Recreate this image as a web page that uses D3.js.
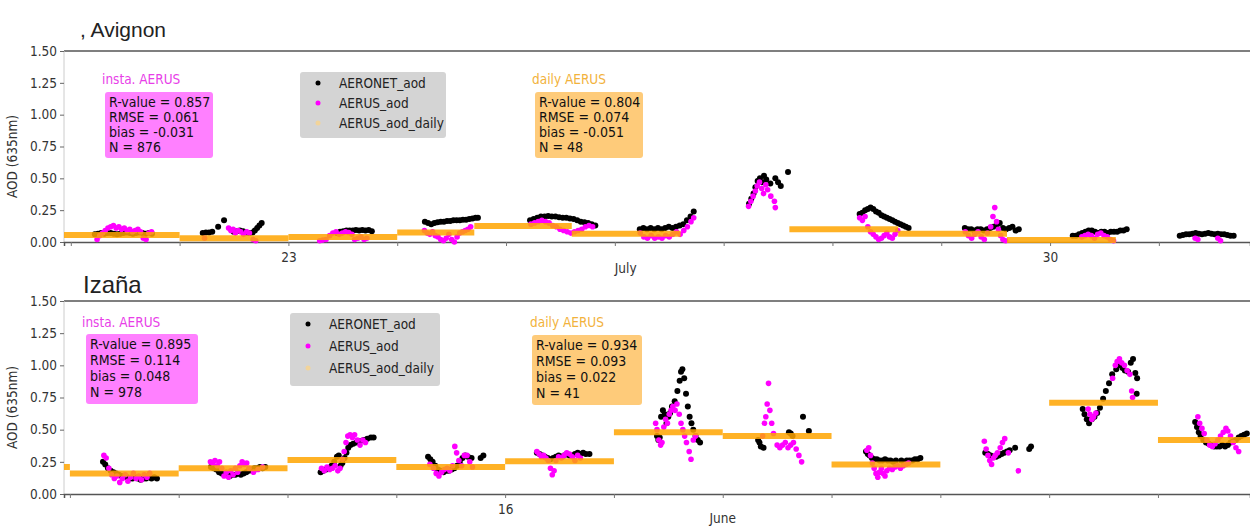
<!DOCTYPE html>
<html>
<head>
<meta charset="utf-8">
<script src="https://cdn.jsdelivr.net/npm/d3@7"></script>
<style>
  body { margin: 0; background: #fff; }
  text { font-family: "DejaVu Sans Condensed", "DejaVu Sans", sans-serif; }
</style>
</head>
<body>
<svg width="1250" height="526"></svg>
<script>
var YEAR = 2018;
var yTicks = [0, 0.25, 0.5, 0.75, 1.0, 1.25, 1.5];
var legendLabels = ["AERONET_aod", "AERUS_aod", "AERUS_aod_daily"];
var statNames = ["R-value", "RMSE", "bias", "N"];

// ---- Avignon (July) : [day, hour UTC, aod]
var avgAeronet = [
  [21,5.3,.06],[21,6.0,.065],[21,6.7,.07],[21,7.4,.065],[21,8.1,.07],[21,8.8,.07],[21,9.5,.065],[21,10.2,.06],[21,10.9,.065],[21,11.6,.07],[21,12.3,.075],[21,13.0,.07],[21,13.7,.065],[21,14.4,.07],[21,15.1,.075],[21,15.8,.07],[21,16.5,.065],[21,17.2,.07],[21,17.9,.065],
  [22,5.1,.07],[22,5.8,.075],[22,6.5,.075],[22,7.2,.08],[22,8.5,.12],[22,9.8,.17],[22,11.9,.08],[22,12.6,.085],[22,13.3,.09],[22,14.0,.085],[22,14.7,.075],[22,15.4,.07],[22,16.1,.075],[22,16.6,.09],[22,17.1,.11],[22,17.6,.13],[22,18.1,.15],
  [23,10.7,.07],[23,11.4,.08],[23,12.1,.085],[23,12.8,.09],[23,13.5,.09],[23,14.2,.09],[23,14.9,.095],[23,15.6,.09],[23,16.3,.095],[23,17.0,.09],[23,17.7,.095],[23,18.4,.085],
  [24,6.1,.16],[24,6.8,.15],[24,7.5,.14],[24,8.2,.15],[24,8.9,.155],[24,9.6,.16],[24,10.3,.16],[24,11.0,.165],[24,11.7,.165],[24,12.4,.17],[24,13.1,.17],[24,13.8,.17],[24,14.5,.175],[24,15.2,.175],[24,15.9,.18],[24,16.6,.185],[24,17.3,.19],[24,17.8,.19],
  [25,5.3,.17],[25,6.1,.18],[25,6.9,.19],[25,7.7,.2],[25,8.5,.2],[25,9.3,.205],[25,10.1,.2],[25,10.9,.2],[25,11.7,.195],[25,12.5,.19],[25,13.3,.19],[25,14.1,.185],[25,14.9,.18],[25,15.7,.17],[25,16.5,.16],[25,17.3,.155],[25,18.1,.15],[25,18.9,.14],[25,19.7,.13],
  [26,5.5,.1],[26,6.3,.11],[26,7.1,.1],[26,7.9,.11],[26,8.7,.1],[26,9.5,.11],[26,10.3,.1],[26,11.1,.11],[26,11.9,.12],[26,12.7,.11],[26,13.5,.12],[26,14.3,.13],[26,15.1,.14],[26,15.9,.17],[26,16.7,.2],[26,17.4,.24],
  [27,5.6,.3],[27,6.1,.34],[27,6.6,.38],[27,7.0,.43],[27,7.5,.48],[27,8.0,.5],[27,8.4,.47],[27,8.9,.52],[27,9.4,.49],[27,10.3,.46],[27,11.4,.5],[27,12.0,.47],[27,12.6,.44],[27,14.2,.55],
  [28,6.0,.22],[28,6.6,.23],[28,7.2,.25],[28,7.8,.26],[28,8.4,.27],[28,9.0,.26],[28,9.6,.24],[28,10.2,.23],[28,10.8,.21],[28,11.4,.2],[28,12.0,.19],[28,12.6,.18],[28,13.2,.17],[28,13.8,.16],[28,14.4,.15],[28,15.0,.14],[28,15.6,.13],[28,16.2,.12],[28,16.8,.11],
  [29,5.2,.11],[29,5.9,.1],[29,6.6,.1],[29,7.3,.09],[29,8.0,.1],[29,8.7,.1],[29,9.4,.09],[29,10.1,.1],[29,10.8,.11],[29,11.5,.12],[29,12.2,.13],[29,12.9,.15],[29,13.6,.11],[29,14.3,.1],[29,15.0,.11],[29,15.7,.12],[29,16.4,.09],[29,17.1,.1],
  [30,5.0,.05],[30,5.7,.05],[30,6.4,.06],[30,7.1,.07],[30,7.8,.08],[30,8.5,.09],[30,9.2,.09],[30,9.9,.08],[30,10.6,.07],[30,11.3,.08],[30,12.0,.08],[30,12.7,.07],[30,13.4,.08],[30,14.1,.08],[30,14.8,.08],[30,15.5,.09],[30,16.2,.09],[30,16.9,.1],
  [31,4.6,.05],[31,5.3,.055],[31,6.0,.06],[31,6.7,.06],[31,7.4,.065],[31,8.1,.07],[31,8.8,.065],[31,9.5,.06],[31,10.2,.065],[31,10.9,.07],[31,11.6,.065],[31,12.3,.06],[31,13.0,.065],[31,13.7,.06],[31,14.4,.06],[31,15.1,.055],[31,15.8,.05],[31,16.5,.05]
];
var avgAerus = [
  [21,5.8,.02],[21,6.4,.05],[21,7.0,.07],[21,7.6,.09],[21,8.2,.11],[21,8.8,.12],[21,9.4,.13],[21,10.0,.11],[21,10.6,.12],[21,11.2,.1],[21,11.8,.11],[21,12.4,.09],[21,13.0,.1],[21,13.6,.08],[21,14.2,.09],[21,14.8,.1],[21,15.4,.08],[21,16.0,.03],[21,16.6,.02],[21,17.2,.07],[21,17.8,.08],
  [22,5.5,.03],[22,10.8,.11],[22,11.3,.09],[22,11.8,.1],[22,12.3,.07],[22,12.9,.09],[22,13.5,.08],[22,14.1,.06],[22,14.8,.08],[22,15.4,.07],[22,16.2,.02],[22,16.8,.01],
  [23,6.9,.01],[23,7.6,.015],[23,8.3,.02],[23,9.1,.05],[23,9.8,.07],[23,10.5,.08],[23,11.2,.06],[23,11.9,.07],[23,12.6,.08],[23,13.3,.075],[23,14.0,.06],[23,14.6,.02],[23,15.3,.03],[23,16.0,.04],[23,16.7,.02],[23,17.3,.03],
  [24,6.0,.09],[24,6.6,.07],[24,7.2,.06],[24,7.8,.08],[24,8.4,.05],[24,9.0,.04],[24,9.6,.02],[24,10.2,.01],[24,10.8,.03],[24,11.4,.06],[24,12.0,.02],[24,12.6,.0],[24,13.2,.04],[24,13.8,.07],[24,14.4,.08],[24,15.0,.09],[24,15.6,.1],[24,16.2,.12],
  [25,5.5,.14],[25,6.3,.15],[25,7.1,.16],[25,7.9,.17],[25,8.7,.16],[25,9.5,.15],[25,10.3,.13],[25,11.1,.12],[25,11.9,.1],[25,12.7,.09],[25,13.5,.08],[25,14.3,.07],[25,15.1,.08],[25,15.9,.09],[25,16.7,.1],[25,17.5,.12],[25,18.3,.13],[25,19.1,.12],
  [26,5.6,.07],[26,6.4,.04],[26,7.2,.03],[26,8.0,.05],[26,8.8,.03],[26,9.6,.04],[26,10.4,.03],[26,11.2,.05],[26,12.0,.04],[26,12.8,.06],[26,13.6,.08],[26,14.4,.06],[26,15.2,.09],[26,16.0,.12],[26,16.8,.16],[26,17.4,.19],
  [27,5.5,.28],[27,6.0,.32],[27,6.5,.36],[27,7.0,.4],[27,7.4,.44],[27,7.9,.47],[27,8.4,.42],[27,8.8,.38],[27,9.3,.45],[27,9.7,.41],[27,10.4,.36],[27,11.2,.32],[27,11.4,.27],
  [28,6.0,.19],[28,6.6,.17],[28,7.2,.2],[28,7.8,.12],[28,8.4,.08],[28,9.0,.06],[28,9.6,.04],[28,10.2,.02],[28,10.8,.03],[28,11.4,.05],[28,12.0,.07],[28,12.6,.04],[28,13.2,.03],[28,13.8,.06],[28,14.4,.09],
  [29,5.3,.08],[29,6.0,.05],[29,6.7,.03],[29,7.4,.06],[29,8.1,.08],[29,8.8,.04],[29,9.5,.02],[29,10.2,.07],[29,10.9,.12],[29,11.4,.2],[29,11.8,.27],[29,12.2,.16],[29,12.6,.1],[29,13.1,.05],[29,13.6,.02],[29,14.2,.01],
  [30,7.0,.04],[30,7.7,.05],[30,8.4,.06],[30,9.1,.05],[30,9.8,.03],[30,10.5,.06],[30,11.2,.07],[30,11.9,.05],[30,12.6,.04],[30,13.3,.02],[30,14.0,.01],
  [31,8.0,.03],[31,8.6,.02],[31,13.0,.03],[31,13.6,.01]
];
// daily bars: [start day, start hour, end day, end hour, aod]
var avgDailyBars = [
  [20,22.0,22,0.0,.055],[22,0.0,23,0.0,.03],[23,0.0,24,0.0,.04],[24,0.0,24,17.0,.075],
  [24,17.0,25,14.5,.125],[25,14.5,26,14.5,.065],[27,14.5,28,14.5,.1],[28,14.5,29,14.5,.065],[29,14.5,30,14.5,.015]
];
var avgInsta = ["0.857", "0.061", "-0.031", "876"];
var avgDaily = ["0.804", "0.074", "-0.051", "48"];
var avgTickLabels = [23, 30];
var avgMonth = ["July", 26, 0.1];
var avgDomain = [[20, 22.5], [31, 20.1]];

// ---- Izaña (June)
var izaAeronet = [
  [12,7.3,.25],[12,7.8,.23],[12,8.4,.2],[12,9.0,.18],[12,9.6,.17],[12,10.2,.16],[12,10.8,.15],[12,11.4,.14],[12,12.0,.14],[12,12.6,.13],[12,13.2,.12],[12,13.8,.12],[12,14.4,.13],[12,15.0,.12],[12,15.6,.11],[12,16.2,.12],[12,16.8,.12],[12,17.4,.13],[12,18.0,.12],[12,18.6,.13],[12,19.2,.12],
  [13,7.1,.21],[13,7.7,.2],[13,8.3,.19],[13,8.9,.17],[13,9.5,.16],[13,10.1,.15],[13,10.7,.15],[13,11.3,.14],[13,11.9,.15],[13,12.5,.15],[13,13.1,.16],[13,13.7,.15],[13,14.3,.16],[13,14.9,.17],[13,15.5,.18],[13,16.1,.19],[13,16.7,.2],[13,17.3,.2],[13,17.9,.21],[13,18.5,.2],[13,19.1,.21],
  [14,7.3,.17],[14,7.9,.18],[14,8.5,.19],[14,9.1,.2],[14,9.7,.22],[14,10.3,.25],[14,10.9,.29],[14,11.3,.3],[14,11.7,.22],[14,12.1,.24],[14,12.6,.28],[14,13.0,.32],[14,13.4,.36],[14,13.9,.38],[14,14.5,.39],[14,15.2,.4],[14,16.0,.41],[14,16.8,.42],[14,17.6,.43],[14,18.4,.44],[14,19.0,.44],
  [15,7.0,.29],[15,7.5,.27],[15,8.0,.25],[15,8.6,.22],[15,9.2,.19],[15,9.8,.18],[15,10.4,.17],[15,11.0,.18],[15,11.6,.18],[15,12.2,.19],[15,12.8,.2],[15,13.4,.22],[15,14.0,.25],[15,14.6,.28],[15,15.2,.3],[15,15.8,.29],[15,16.6,.28],[15,18.6,.28],[15,19.2,.3],
  [16,7.0,.32],[16,7.6,.31],[16,8.2,.3],[16,8.8,.29],[16,9.4,.28],[16,10.0,.27],[16,10.6,.28],[16,11.2,.29],[16,11.8,.3],[16,12.4,.29],[16,13.0,.3],[16,13.6,.31],[16,14.2,.3],[16,14.8,.3],[16,15.4,.31],[16,16.0,.32],[16,16.6,.31],[16,17.2,.32],[16,17.8,.31],[16,18.6,.31],
  [17,9.5,.45],[17,9.8,.42],[17,10.1,.44],[17,10.4,.6],[17,10.8,.65],[17,11.2,.62],[17,11.6,.55],[17,12.0,.6],[17,12.4,.63],[17,12.8,.68],[17,13.4,.72],[17,14.0,.8],[17,14.5,.88],[17,14.8,.95],[17,15.1,.97],[17,15.5,.9],[17,15.9,.78],[17,16.3,.68],[17,16.7,.6],[17,17.1,.55],[17,17.5,.5],[17,18.0,.45],[17,18.5,.42],[17,19.0,.4],
  [18,7.8,.42],[18,8.1,.4],[18,8.4,.37],[18,9.0,.36],[18,14.6,.48],[18,15.0,.47],[18,15.4,.45],[18,17.7,.6],[18,19.0,.49],
  [19,7.6,.33],[19,8.0,.31],[19,8.4,.3],[19,8.9,.28],[19,9.4,.27],[19,10.0,.27],[19,10.6,.26],[19,11.2,.26],[19,11.8,.27],[19,12.4,.26],[19,13.0,.26],[19,13.6,.25],[19,14.2,.26],[19,15.4,.26],[19,16.0,.25],[19,16.6,.26],[19,17.2,.26],[19,17.8,.26],[19,18.4,.27],[19,19.0,.27],[19,19.6,.28],
  [20,9.9,.32],[20,10.5,.31],[20,11.1,.3],[20,11.7,.29],[20,12.3,.29],[20,12.9,.3],[20,13.5,.31],[20,14.1,.32],[20,14.7,.33],[20,15.3,.34],[20,16.5,.36],[20,19.6,.35],[20,20.0,.37],
  [21,7.4,.66],[21,7.8,.62],[21,8.3,.58],[21,8.8,.55],[21,9.4,.58],[21,10.0,.6],[21,10.6,.63],[21,11.2,.67],[21,11.9,.74],[21,12.5,.8],[21,13.2,.86],[21,13.9,.93],[21,14.8,.97],[21,15.6,1.0],[21,16.2,.98],[21,16.7,.96],[21,17.4,.95],[21,18.0,1.02],[21,18.5,1.05],[21,19.0,.94],[21,19.4,.9],[21,19.3,.78],
  [22,8.2,.56],[22,8.6,.52],[22,9.0,.48],[22,9.4,.45],[22,10.0,.42],[22,10.6,.4],[22,11.2,.39],[22,11.8,.38],[22,12.4,.37],[22,13.0,.37],[22,13.6,.37],[22,14.2,.38],[22,14.8,.37],[22,15.4,.38],[22,16.0,.4],[22,16.6,.41],[22,17.2,.42],[22,17.8,.44],[22,18.4,.45],[22,19.0,.46],[22,19.6,.47]
];
var izaAerus = [
  [12,7.5,.3],[12,8.0,.28],[12,8.6,.2],[12,9.2,.15],[12,9.8,.12],[12,10.4,.14],[12,11.0,.09],[12,11.6,.12],[12,12.2,.15],[12,12.8,.1],[12,13.4,.13],[12,14.0,.16],[12,14.6,.12],[12,15.2,.14],[12,15.8,.11],[12,16.4,.15],[12,17.0,.13],[12,17.6,.16],
  [13,7.0,.25],[13,7.5,.24],[13,8.0,.26],[13,8.5,.22],[13,9.0,.25],[13,9.5,.2],[13,10.0,.14],[13,10.5,.17],[13,11.0,.13],[13,11.5,.18],[13,12.0,.15],[13,12.5,.2],[13,13.0,.17],[13,13.5,.22],[13,14.0,.25],[13,14.5,.23],[13,15.0,.24],[13,15.5,.2],[13,16.5,.17],[13,17.5,.19],[13,18.5,.21],
  [14,7.5,.2],[14,8.1,.18],[14,8.7,.21],[14,9.3,.19],[14,9.9,.2],[14,10.5,.22],[14,11.1,.18],[14,11.6,.2],[14,12.1,.27],[14,12.5,.33],[14,12.9,.4],[14,13.3,.45],[14,13.8,.46],[14,14.3,.44],[14,14.8,.46],[14,15.4,.42],[14,16.0,.38],[14,16.6,.42],[14,17.2,.4],
  [15,7.4,.23],[15,8.2,.2],[15,8.8,.16],[15,9.4,.14],[15,10.0,.17],[15,10.6,.19],[15,11.2,.2],[15,11.8,.18],[15,12.4,.22],[15,12.9,.37],[15,13.3,.32],[15,13.8,.26],[15,14.4,.22],[15,15.0,.3],[15,15.6,.3],[15,16.2,.25],[15,16.8,.21],
  [16,7.0,.33],[16,7.5,.31],[16,8.0,.29],[16,8.5,.3],[16,9.0,.28],[16,9.5,.26],[16,10.0,.2],[16,10.4,.15],[16,10.8,.18],[16,11.2,.26],[16,11.8,.29],[16,12.4,.28],[16,13.0,.3],[16,13.6,.32],[16,14.2,.31],[16,14.8,.29],[16,15.4,.26],[16,16.0,.3],[16,16.6,.28],
  [17,9.2,.55],[17,9.5,.5],[17,9.9,.42],[17,10.3,.38],[17,10.6,.4],[17,11.0,.52],[17,11.4,.58],[17,11.8,.55],[17,12.2,.62],[17,12.6,.65],[17,13.0,.68],[17,13.5,.65],[17,13.9,.7],[17,14.4,.62],[17,14.8,.55],[17,15.2,.5],[17,15.6,.45],[17,16.0,.4],[17,16.6,.33],[17,17.0,.27],[17,17.5,.42],[17,18.0,.45],
  [18,8.8,.45],[18,9.2,.55],[18,9.5,.6],[18,9.8,.7],[18,10.1,.86],[18,10.4,.65],[18,10.8,.55],[18,11.2,.47],[18,12.0,.38],[18,12.6,.36],[18,13.2,.38],[18,13.8,.4],[18,14.4,.36],[18,15.0,.38],[18,15.6,.4],[18,16.2,.35],[18,16.8,.3],[18,17.4,.25],
  [19,7.8,.34],[19,8.2,.36],[19,8.6,.3],[19,9.0,.24],[19,9.4,.2],[19,9.8,.16],[19,10.2,.13],[19,10.6,.17],[19,11.0,.2],[19,11.4,.16],[19,11.8,.14],[19,12.2,.18],[19,12.8,.2],[19,13.4,.19],[19,14.0,.21],[19,14.6,.22],[19,15.2,.2],[19,15.8,.22],[19,16.4,.23],[19,17.0,.24],
  [20,9.7,.41],[20,10.1,.35],[20,10.5,.3],[20,10.9,.26],[20,11.3,.23],[20,11.7,.28],[20,12.1,.3],[20,12.6,.32],[20,13.2,.36],[20,13.7,.4],[20,14.2,.43],[20,15.0,.32],[20,17.2,.18],
  [21,8.6,.66],[21,9.0,.62],[21,9.4,.58],[21,9.8,.6],[21,10.3,.63],[21,14.0,.9],[21,14.6,1.0],[21,15.0,1.03],[21,15.5,1.05],[21,16.0,1.02],[21,16.6,1.0],[21,17.2,.96],[21,17.8,.93],[21,18.2,.8],[21,18.4,.75],
  [22,8.8,.6],[22,9.2,.55],[22,9.7,.51],[22,10.2,.47],[22,10.8,.42],[22,11.4,.38],[22,12.0,.37],[22,12.6,.39],[22,13.2,.42],[22,13.8,.45],[22,14.4,.48],[22,15.0,.51],[22,15.4,.49],[22,16.0,.45],[22,16.6,.4],[22,17.2,.36],[22,17.8,.33]
];
var izaDailyBars = [
  [11,0,12,0,.21],[12,0,13,0,.16],[13,0,14,0,.2],[14,0,15,0,.265],[15,0,16,0,.21],[16,0,17,0,.255],
  [17,0,18,0,.48],[18,0,19,0,.45],[19,0,20,0,.23],[21,0,22,0,.71],[22,0,23,0,.42]
];
var izaInsta = ["0.895", "0.114", "0.048", "978"];
var izaDaily = ["0.934", "0.093", "0.022", "41"];
var izaTickLabels = [16];
var izaMonth = ["June", 18, 0];
var izaDomain = [[11, 22.7], [22, 20.3]];

var svg = d3.select("svg");

function drawPanel(p) {
  var t = function(day, hour) { return new Date(Date.UTC(YEAR, p.month, day) + hour * 3600000); };
  var x = d3.scaleUtc().domain([t(p.domain[0][0], p.domain[0][1]), t(p.domain[1][0], p.domain[1][1])]).range([64, 1250]);
  var y = d3.scaleLinear().domain([0, 1.5]).range([p.y0, p.y1]);
  var g = svg.append("g");

  // spines
  g.append("line").attr("x1", 64).attr("x2", 1250).attr("y1", p.y1).attr("y2", p.y1).attr("stroke", "#555").attr("stroke-width", 1.5);
  g.append("line").attr("x1", 64).attr("x2", 64).attr("y1", p.y1).attr("y2", p.y0).attr("stroke", "#ccc").attr("stroke-width", 1);

  var yAxis = g.append("g").attr("transform", "translate(64,0)")
    .call(d3.axisLeft(y).tickValues(yTicks).tickFormat(d3.format(".2f")).tickSize(4).tickPadding(3));
  yAxis.select(".domain").remove();
  yAxis.selectAll("line").attr("stroke", "#666");
  yAxis.selectAll("text").attr("font-size", 13.5).attr("fill", "#333").attr("font-family", null);

  var xAxis = g.append("g").attr("transform", "translate(0," + p.y0 + ")")
    .call(d3.axisBottom(x).ticks(d3.utcDay.every(1)).tickSize(4).tickPadding(6)
      .tickFormat(function(d) { return p.tickLabels.indexOf(d.getUTCDate()) >= 0 ? d.getUTCDate() : ""; }));
  xAxis.select(".domain").attr("stroke", "#555").attr("stroke-width", 1.5);
  xAxis.selectAll("line").attr("stroke", "#777");
  xAxis.selectAll("text").attr("font-size", 13.5).attr("fill", "#333").attr("font-family", null);

  g.append("text").attr("x", x(t(p.monthLabel[1], p.monthLabel[2] * 24))).attr("y", p.monthY)
    .attr("text-anchor", "middle").attr("font-size", 13.5).attr("fill", "#333").text(p.monthLabel[0]);

  // y label
  g.append("text").attr("transform", "translate(17," + ((p.y0 + p.y1) / 2 + 10) + ") rotate(-90)")
    .attr("text-anchor", "middle").attr("font-size", 13.5).attr("fill", "#333").text("AOD (635nm)");

  // title
  g.append("text").attr("x", p.titleX).attr("y", p.titleY).attr("font-size", p.titleSize).attr("fill", "#222")
    .style("font-family", "'Liberation Sans', Arial, sans-serif").text(p.title);

  var plot = g.append("g");
  plot.selectAll(".aeronet").data(p.aeronet).enter().append("circle")
    .attr("cx", function(d) { return x(t(d[0], d[1])); })
    .attr("cy", function(d) { return y(d[2]); })
    .attr("r", 3).attr("fill", "#000");
  plot.selectAll(".aerus").data(p.aerus).enter().append("circle")
    .attr("cx", function(d) { return x(t(d[0], d[1])); })
    .attr("cy", function(d) { return y(d[2]); })
    .attr("r", 2.8).attr("fill", "#f0f");
  plot.selectAll(".daily").data(p.daily).enter().append("line")
    .attr("x1", function(d) { return Math.max(64, x(t(d[0], d[1]))); })
    .attr("x2", function(d) { return Math.min(1250, x(t(d[2], d[3]))); })
    .attr("y1", function(d) { return y(d[4]); })
    .attr("y2", function(d) { return y(d[4]); })
    .attr("stroke", "#ffa500").attr("stroke-opacity", 0.85).attr("stroke-width", 6);

  // stat boxes
  function statBox(label, color, fill, vals, b) {
    g.append("text").attr("x", b.lx).attr("y", b.ly).attr("font-size", 13.5).attr("fill", color).text(label);
    g.append("rect").attr("x", b.x).attr("y", b.y).attr("width", b.w).attr("height", b.h)
      .attr("rx", 3).attr("fill", fill);
    vals.forEach(function(v, i) {
      g.append("text").attr("x", b.x + 4).attr("y", b.y + 15 + i * b.dy).attr("font-size", 14).attr("fill", "#111")
        .text(statNames[i] + " = " + v);
    });
  }
  statBox("insta. AERUS", "#e83ee8", "#ff80ff", p.insta, p.instaBox);
  statBox("daily AERUS", "#f2b23c", "#fecb7a", p.dailyStats, p.dailyBox);

  // legend
  var L = p.legend;
  g.append("rect").attr("x", L.x).attr("y", L.y).attr("width", L.w).attr("height", L.h).attr("rx", 3).attr("fill", "#d4d4d4");
  var dotColors = ["#000", "#f0f", "#f2d49a"];
  legendLabels.forEach(function(lab, i) {
    g.append("circle").attr("cx", L.x + 18).attr("cy", L.y + 11 + i * L.dy).attr("r", 2.5).attr("fill", dotColors[i]);
    g.append("text").attr("x", L.x + 39).attr("y", L.y + 16 + i * L.dy).attr("font-size", 13.5).attr("fill", "#222").text(lab);
  });
}

drawPanel({
  month: 6, domain: avgDomain, y0: 242, y1: 51, title: ", Avignon", titleX: 80, titleY: 37, titleSize: 21,
  tickLabels: avgTickLabels, monthLabel: avgMonth, monthY: 273,
  aeronet: avgAeronet, aerus: avgAerus, daily: avgDailyBars,
  insta: avgInsta, dailyStats: avgDaily,
  instaBox: { lx: 102, ly: 84, x: 105, y: 92, w: 108, h: 66, dy: 15 },
  dailyBox: { lx: 532, ly: 84, x: 535, y: 92, w: 108, h: 66, dy: 15 },
  legend: { x: 300, y: 72, w: 146, h: 66, dy: 20 }
});
drawPanel({
  month: 5, domain: izaDomain, y0: 494, y1: 301, title: "Izaña", titleX: 83, titleY: 293, titleSize: 24,
  tickLabels: izaTickLabels, monthLabel: izaMonth, monthY: 523,
  aeronet: izaAeronet, aerus: izaAerus, daily: izaDailyBars,
  insta: izaInsta, dailyStats: izaDaily,
  instaBox: { lx: 82, ly: 327, x: 86, y: 334, w: 112, h: 70, dy: 16 },
  dailyBox: { lx: 530, ly: 327, x: 532, y: 335, w: 110, h: 70, dy: 16 },
  legend: { x: 290, y: 313, w: 150, h: 73, dy: 22 }
});
</script>
</body>
</html>
